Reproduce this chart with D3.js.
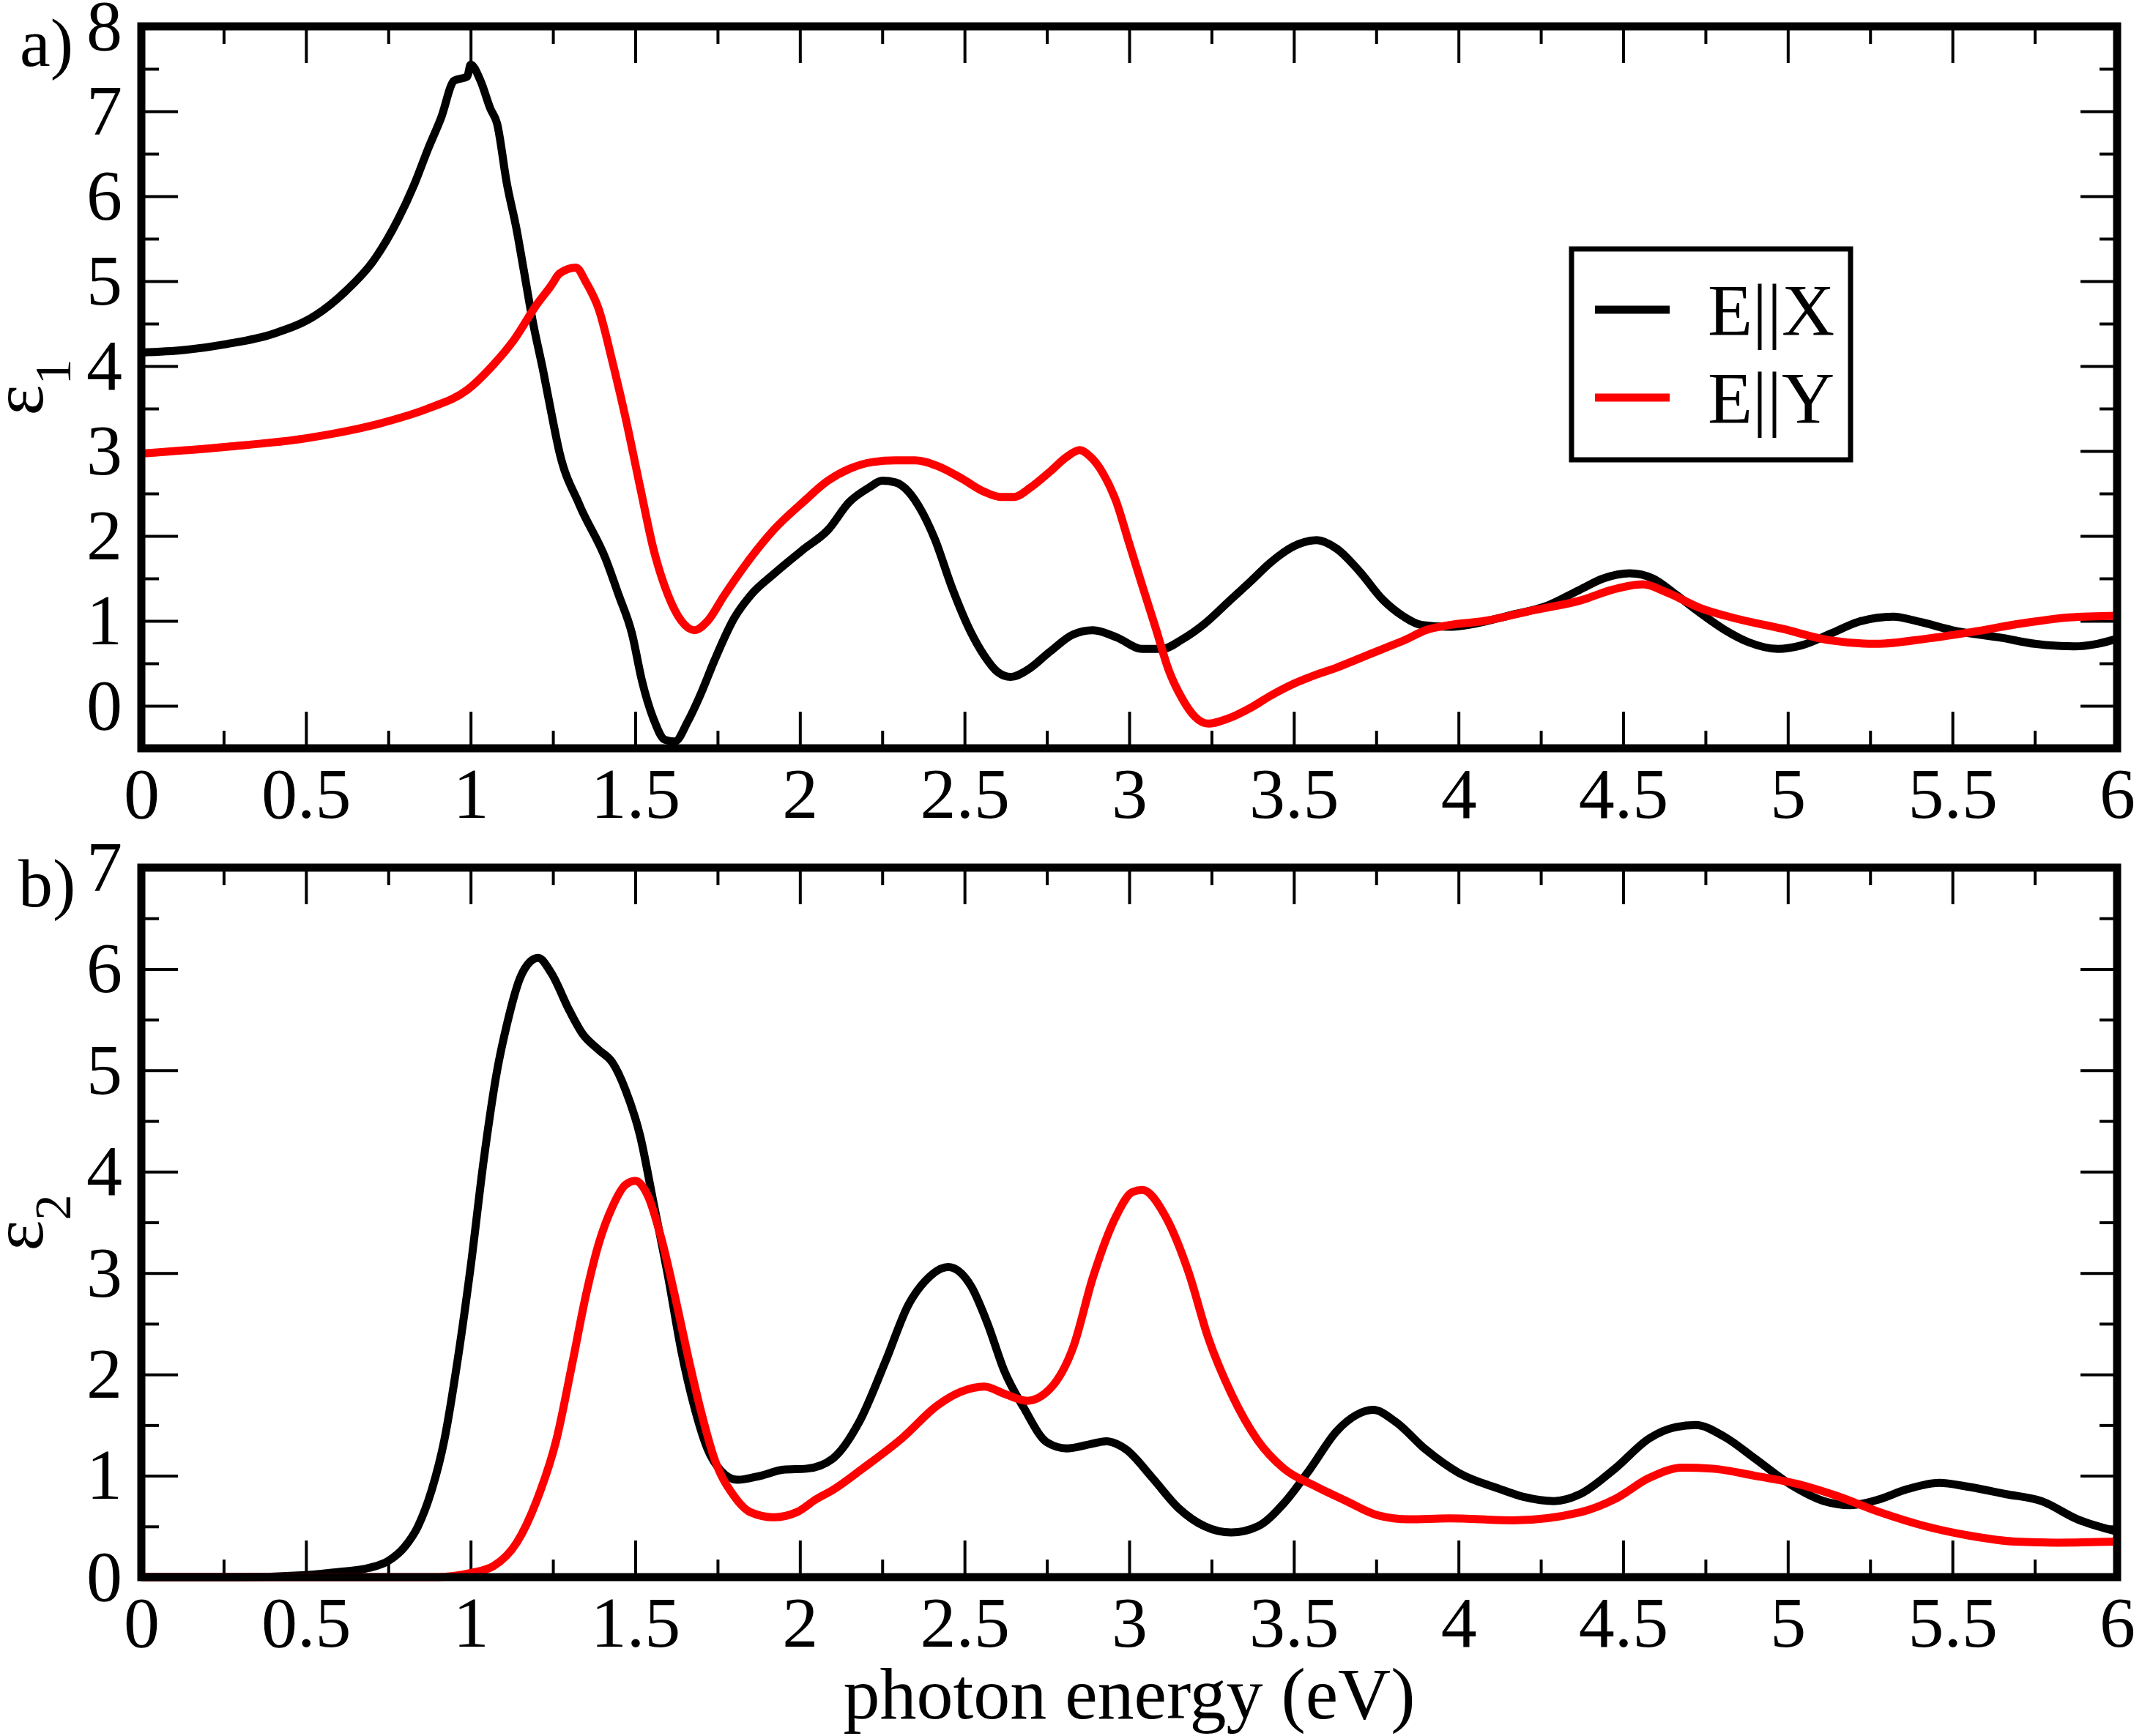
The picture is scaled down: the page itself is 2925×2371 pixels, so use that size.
<!DOCTYPE html>
<html>
<head>
<meta charset="utf-8">
<script src="https://cdn.jsdelivr.net/npm/d3@7"></script>
<style>
body { margin: 0; background: #fff; }
text { font-family: "Liberation Serif", "Times New Roman", serif; }
</style>
</head>
<body>
<script>
// ticks
var xTicks = [0, 0.5, 1, 1.5, 2, 2.5, 3, 3.5, 4, 4.5, 5, 5.5, 6];
var xMinor = [0.25, 0.75, 1.25, 1.75, 2.25, 2.75, 3.25, 3.75, 4.25, 4.75, 5.25, 5.75];
var y1Ticks = [0, 1, 2, 3, 4, 5, 6, 7, 8];
var y1Minor = [0.5, 1.5, 2.5, 3.5, 4.5, 5.5, 6.5, 7.5];
var y2Ticks = [0, 1, 2, 3, 4, 5, 6, 7];
var y2Minor = [0.5, 1.5, 2.5, 3.5, 4.5, 5.5, 6.5];

var seriesNames = ["E||X", "E||Y"];
var seriesColors = ["#000000", "#ff0000"];

// a) eps1, E||X  (energy eV, value)
var eps1X = [[0,4.16],[0.13,4.19],[0.26,4.26],[0.4,4.38],[0.53,4.6],[0.62,4.88],[0.705,5.24],[0.78,5.73],[0.83,6.15],[0.87,6.55],[0.91,6.92],[0.95,7.36],[0.99,7.41],[1.0,7.55],[1.03,7.36],[1.06,7.03],[1.08,6.86],[1.11,6.15],[1.14,5.6],[1.16,5.16],[1.19,4.5],[1.22,3.95],[1.245,3.45],[1.27,2.98],[1.33,2.37],[1.41,1.73],[1.45,1.3],[1.49,0.85],[1.52,0.3],[1.555,-0.15],[1.59,-0.4],[1.62,-0.42],[1.66,-0.18],[1.7,0.15],[1.74,0.53],[1.8,1.03],[1.85,1.3],[1.92,1.55],[2.01,1.84],[2.085,2.07],[2.15,2.4],[2.21,2.57],[2.25,2.65],[2.29,2.63],[2.33,2.52],[2.37,2.29],[2.41,1.96],[2.46,1.41],[2.52,0.86],[2.56,0.59],[2.6,0.4],[2.64,0.34],[2.69,0.42],[2.76,0.64],[2.83,0.84],[2.89,0.89],[2.96,0.81],[3.04,0.67],[3.1,0.67],[3.16,0.78],[3.23,0.97],[3.3,1.22],[3.37,1.47],[3.43,1.69],[3.5,1.88],[3.57,1.95],[3.63,1.85],[3.7,1.58],[3.77,1.25],[3.83,1.06],[3.89,0.95],[3.97,0.93],[4.04,0.96],[4.15,1.06],[4.27,1.18],[4.37,1.37],[4.44,1.5],[4.52,1.56],[4.59,1.5],[4.66,1.31],[4.735,1.09],[4.81,0.89],[4.88,0.75],[4.97,0.67],[5.04,0.71],[5.13,0.85],[5.215,0.99],[5.32,1.05],[5.4,0.99],[5.5,0.89],[5.65,0.8],[5.75,0.73],[5.87,0.7],[5.94,0.73],[6.0,0.79]];

// a) eps1, E||Y
var eps1Y = [[0,2.97],[0.26,3.05],[0.5,3.15],[0.73,3.33],[0.87,3.5],[0.99,3.72],[1.07,4.02],[1.13,4.3],[1.2,4.72],[1.245,4.95],[1.27,5.09],[1.32,5.16],[1.35,4.99],[1.39,4.66],[1.43,4.06],[1.47,3.4],[1.515,2.57],[1.555,1.85],[1.6,1.3],[1.64,1.0],[1.68,0.89],[1.72,1.0],[1.77,1.3],[1.85,1.74],[1.92,2.07],[2.01,2.4],[2.085,2.65],[2.15,2.79],[2.22,2.87],[2.29,2.89],[2.35,2.89],[2.42,2.82],[2.49,2.68],[2.56,2.52],[2.61,2.46],[2.65,2.46],[2.7,2.57],[2.76,2.76],[2.81,2.93],[2.85,3.01],[2.88,2.94],[2.92,2.74],[2.96,2.41],[3.0,1.91],[3.04,1.41],[3.08,0.92],[3.12,0.42],[3.16,0.09],[3.2,-0.13],[3.24,-0.21],[3.3,-0.15],[3.37,-0.02],[3.43,0.12],[3.5,0.26],[3.57,0.37],[3.63,0.45],[3.7,0.56],[3.77,0.67],[3.84,0.78],[3.9,0.89],[3.97,0.95],[4.08,1.0],[4.22,1.12],[4.37,1.24],[4.47,1.37],[4.56,1.43],[4.63,1.34],[4.735,1.15],[4.84,1.03],[4.98,0.91],[5.13,0.77],[5.27,0.73],[5.42,0.79],[5.56,0.87],[5.71,0.97],[5.855,1.04],[6.0,1.06]];

// b) eps2, E||X
var eps2X = [[0,0],[0.3,0],[0.5,0.02],[0.6,0.05],[0.69,0.09],[0.75,0.16],[0.8,0.3],[0.84,0.5],[0.88,0.84],[0.92,1.35],[0.96,2.13],[1.0,3.06],[1.04,4.12],[1.08,4.99],[1.11,5.45],[1.15,5.91],[1.18,6.07],[1.205,6.11],[1.245,5.96],[1.3,5.59],[1.34,5.36],[1.39,5.2],[1.43,5.08],[1.47,4.81],[1.515,4.35],[1.555,3.7],[1.6,2.96],[1.64,2.23],[1.68,1.67],[1.72,1.26],[1.76,1.05],[1.81,0.96],[1.88,1.0],[1.95,1.06],[2.02,1.07],[2.1,1.17],[2.18,1.53],[2.26,2.13],[2.33,2.69],[2.38,2.92],[2.45,3.06],[2.52,2.87],[2.57,2.5],[2.62,2.04],[2.68,1.67],[2.75,1.33],[2.81,1.27],[2.88,1.31],[2.93,1.34],[2.99,1.26],[3.07,0.98],[3.15,0.68],[3.23,0.5],[3.31,0.44],[3.39,0.5],[3.47,0.73],[3.55,1.07],[3.63,1.44],[3.69,1.6],[3.74,1.65],[3.81,1.53],[3.9,1.26],[4.0,1.03],[4.125,0.87],[4.2,0.79],[4.29,0.75],[4.37,0.82],[4.475,1.07],[4.58,1.37],[4.66,1.48],[4.72,1.5],[4.81,1.38],[4.9,1.17],[5.01,0.91],[5.11,0.75],[5.19,0.71],[5.27,0.76],[5.365,0.87],[5.46,0.93],[5.55,0.89],[5.66,0.82],[5.77,0.75],[5.88,0.57],[6.0,0.45]];

// b) eps2, E||Y
var eps2Y = [[0,0],[0.9,0],[1.0,0.04],[1.07,0.11],[1.14,0.34],[1.2,0.75],[1.26,1.35],[1.31,2.13],[1.35,2.78],[1.39,3.3],[1.43,3.65],[1.47,3.87],[1.5,3.91],[1.54,3.75],[1.58,3.33],[1.62,2.78],[1.66,2.18],[1.7,1.63],[1.74,1.17],[1.8,0.8],[1.85,0.64],[1.92,0.59],[1.99,0.64],[2.05,0.77],[2.1,0.86],[2.19,1.07],[2.31,1.37],[2.42,1.7],[2.49,1.83],[2.56,1.88],[2.62,1.81],[2.69,1.74],[2.76,1.86],[2.83,2.27],[2.89,2.96],[2.96,3.56],[3.01,3.8],[3.04,3.82],[3.11,3.56],[3.18,3.01],[3.24,2.36],[3.31,1.81],[3.39,1.35],[3.47,1.07],[3.57,0.89],[3.66,0.75],[3.755,0.61],[3.85,0.57],[3.97,0.58],[4.165,0.56],[4.37,0.64],[4.475,0.77],[4.58,0.98],[4.68,1.08],[4.77,1.07],[4.9,1.0],[5.04,0.91],[5.15,0.8],[5.28,0.64],[5.42,0.5],[5.55,0.41],[5.69,0.35],[5.82,0.34],[6.0,0.35]];

var width = 2925,
    height = 2371,
    left = 193,
    right = 2891,
    major = 50,
    minor = 24;

var svg = d3.select("body")
            .append("svg")
            .attr("width", width)
            .attr("height", height);

var x = d3.scaleLinear().domain([0, 6]).range([left, right]);

function styleAxis(g, labels) {
  g.select(".domain").remove();
  g.selectAll(".tick line").attr("stroke", "#000").attr("stroke-width", 4);
  g.attr("font-family", "Liberation Serif, Times New Roman, serif")
   .attr("font-size", labels ? 98 : 0);
  g.selectAll(".tick text").attr("fill", "#000");
}

function drawPanel(top, bottom, yDomain, yTicks, yMinor, series) {
  var y = d3.scaleLinear().domain(yDomain).range([bottom, top]);
  var fmt = d3.format("");

  // bottom ticks with labels
  svg.append("g").attr("transform", "translate(0," + bottom + ")")
     .call(d3.axisBottom(x).tickValues(xTicks).tickSize(-major).tickPadding(25).tickFormat(fmt))
     .call(styleAxis, true);
  svg.append("g").attr("transform", "translate(0," + bottom + ")")
     .call(d3.axisBottom(x).tickValues(xMinor).tickSize(-minor).tickFormat(""))
     .call(styleAxis, false);
  // top mirror
  svg.append("g").attr("transform", "translate(0," + top + ")")
     .call(d3.axisTop(x).tickValues(xTicks).tickSize(-major).tickFormat(""))
     .call(styleAxis, false);
  svg.append("g").attr("transform", "translate(0," + top + ")")
     .call(d3.axisTop(x).tickValues(xMinor).tickSize(-minor).tickFormat(""))
     .call(styleAxis, false);
  // left with labels
  svg.append("g").attr("transform", "translate(" + left + ",0)")
     .call(d3.axisLeft(y).tickValues(yTicks).tickSize(-major).tickPadding(26).tickFormat(fmt))
     .call(styleAxis, true);
  svg.append("g").attr("transform", "translate(" + left + ",0)")
     .call(d3.axisLeft(y).tickValues(yMinor).tickSize(-minor).tickFormat(""))
     .call(styleAxis, false);
  // right mirror
  svg.append("g").attr("transform", "translate(" + right + ",0)")
     .call(d3.axisRight(y).tickValues(yTicks).tickSize(-major).tickFormat(""))
     .call(styleAxis, false);
  svg.append("g").attr("transform", "translate(" + right + ",0)")
     .call(d3.axisRight(y).tickValues(yMinor).tickSize(-minor).tickFormat(""))
     .call(styleAxis, false);

  var line = d3.line()
               .x(function(d){ return x(d[0]); })
               .y(function(d){ return y(d[1]); })
               .curve(d3.curveMonotoneX);

  series.forEach(function(s, i) {
    svg.append("path")
       .attr("d", line(s))
       .attr("fill", "none")
       .attr("stroke", seriesColors[i])
       .attr("stroke-width", 11)
       .attr("stroke-linejoin", "round");
  });

  svg.append("rect")
     .attr("x", left).attr("y", top)
     .attr("width", right - left).attr("height", bottom - top)
     .attr("fill", "none")
     .attr("stroke", "#000")
     .attr("stroke-width", 11);

  return y;
}

drawPanel(36, 1022, [-0.5, 8], y1Ticks, y1Minor, [eps1X, eps1Y]);
drawPanel(1185, 2154, [0, 7], y2Ticks, y2Minor, [eps2X, eps2Y]);

// axis titles
function epsLabel(cy, sub) {
  var t = svg.append("text")
     .attr("transform", "translate(58," + cy + ") rotate(-90)")
     .attr("text-anchor", "middle")
     .attr("font-size", 100)
     .text("\u03b5");
  t.append("tspan").attr("font-size", 70).attr("dy", 38).text(sub);
}
epsLabel(529, "1");
epsLabel(1670, "2");

svg.append("text").attr("x", 27).attr("y", 90).attr("font-size", 94).text("a)");
svg.append("text").attr("x", 25).attr("y", 1238).attr("font-size", 94).text("b)");

svg.append("text")
   .attr("x", (left + right) / 2).attr("y", 2347)
   .attr("text-anchor", "middle")
   .attr("font-size", 100)
   .text("photon energy (eV)");

// legend
var legend = svg.append("g");
legend.append("rect")
      .attr("x", 2146).attr("y", 340)
      .attr("width", 381).attr("height", 288)
      .attr("fill", "#fff")
      .attr("stroke", "#000")
      .attr("stroke-width", 7);
seriesNames.forEach(function(name, i) {
  var ly = 423 + i * 120;
  legend.append("line")
        .attr("x1", 2178).attr("x2", 2280)
        .attr("y1", ly).attr("y2", ly)
        .attr("stroke", seriesColors[i])
        .attr("stroke-width", 11);
  legend.append("text")
        .attr("x", 2332).attr("y", ly + 34)
        .attr("font-size", 100)
        .text(name);
});
</script>
</body>
</html>
